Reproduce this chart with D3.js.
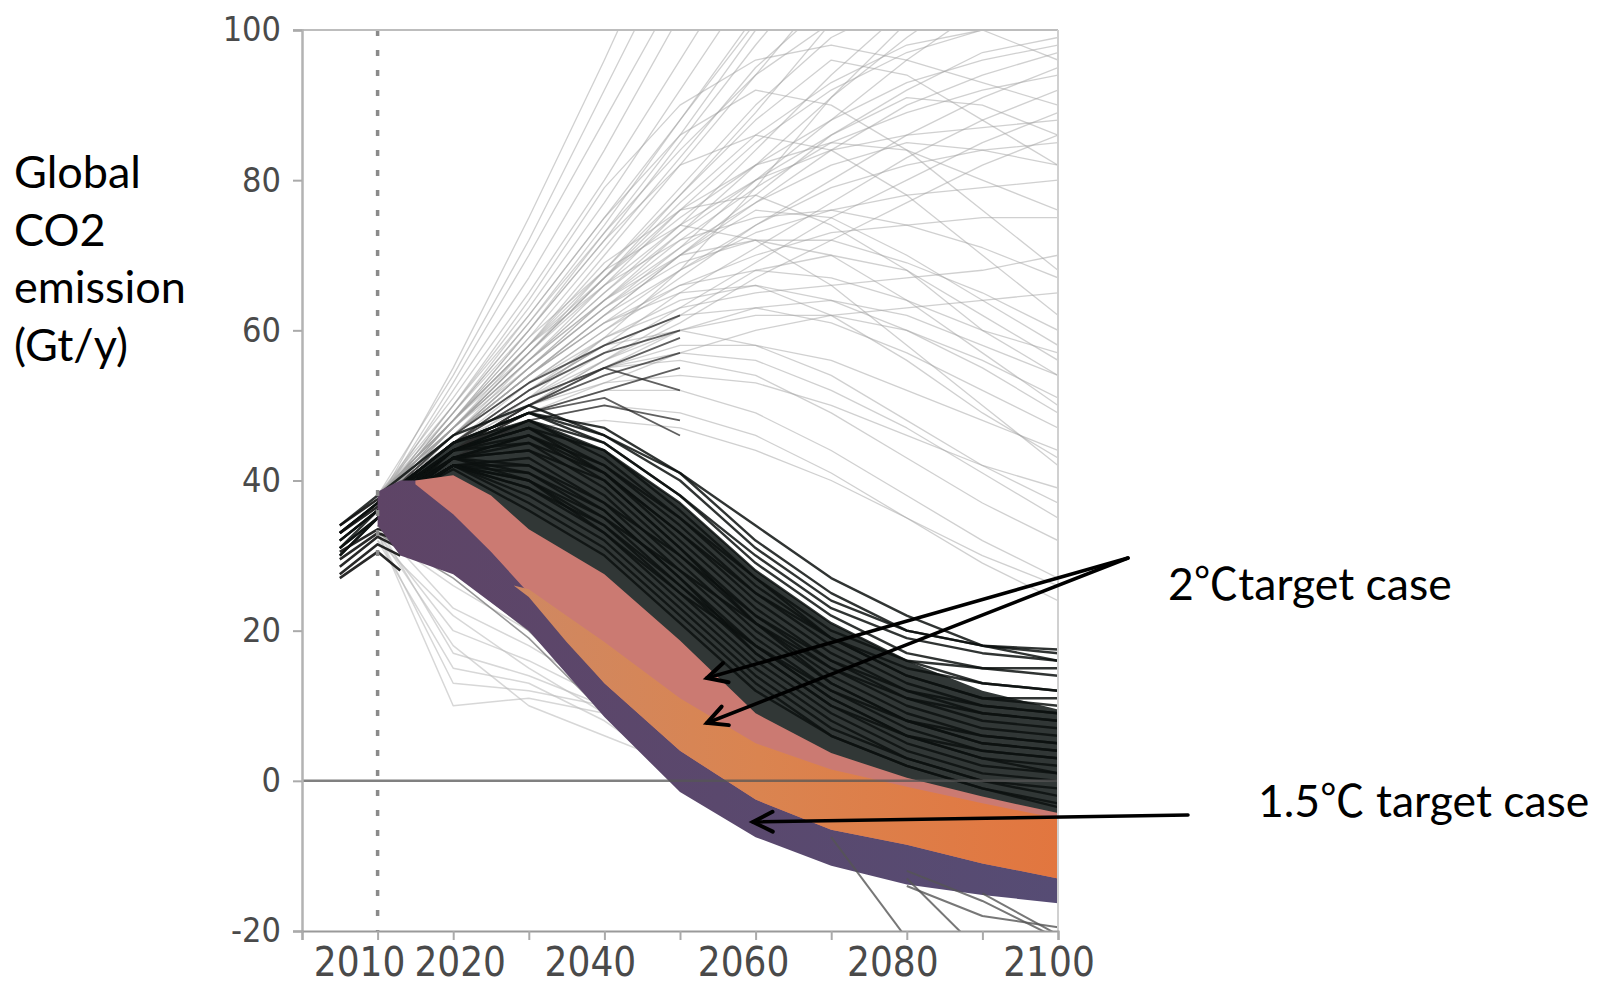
<!DOCTYPE html>
<html>
<head>
<meta charset="utf-8">
<script src="https://cdn.jsdelivr.net/npm/d3@7"></script>
<style>
  html, body { margin: 0; padding: 0; background: #fff; }
  svg { display: block; }
</style>
</head>
<body>
<svg id="chart" width="1608" height="985"></svg>
<script>
// ---- data (Gt CO2 / year) ----
const DECADES = [2010, 2020, 2030, 2040, 2050, 2060, 2070, 2080, 2090, 2100];
const BUNDLE_YEARS = [2005, 2010, 2020, 2030, 2040, 2050, 2060, 2070, 2080, 2090, 2100];
const HIST_YEARS = [2005, 2010, 2013];
const STEEP_YEARS = [2060, 2070, 2080, 2090, 2100];

const X_TICKS = [2000, 2010, 2020, 2030, 2040, 2050, 2060, 2070, 2080, 2090, 2100];
const X_LABELS = [2010, 2020, 2040, 2060, 2080, 2100];
const Y_TICKS = [-20, 0, 20, 40, 60, 80, 100];

// baseline scenarios (light grey fan), one value per decade from 2010
const fanLines = [
  [37, 55, 75, 96, 118],
  [38, 54, 72, 92, 112],
  [37, 53, 70, 88, 106],
  [37, 52, 67, 84, 102],
  [38, 51, 65, 80, 96, 112],
  [37, 50, 63, 77, 92, 107],
  [38, 50, 62, 75, 88, 101],
  [37, 49, 60, 72, 85, 98, 110],
  [38, 48, 58, 70, 82, 94, 106],
  [37, 48, 57, 67, 78, 89, 101],
  [38, 47, 56, 65, 74, 84, 94, 103],
  [37, 47, 55, 63, 71, 80, 88, 96, 103],
  [38, 46, 54, 62, 70, 77, 84, 90, 94, 97],
  [37, 46, 53, 60, 67, 74, 80, 86, 91, 95],
  [38, 45, 52, 58, 65, 71, 77, 83, 88, 92],
  [37, 45, 51, 57, 63, 69, 75, 80, 85, 89],
  [38, 44, 50, 56, 61, 67, 72, 77, 82, 86],
  [37, 48, 60, 72, 82, 86, 84, 78, 70, 62],
  [38, 47, 58, 69, 76, 78, 74, 68, 60, 54],
  [37, 49, 62, 75, 86, 92, 90, 84, 76, 68],
  [38, 46, 55, 64, 70, 72, 70, 64, 57, 50],
  [37, 46, 54, 62, 68, 73, 76, 78, 79, 80],
  [37, 47, 57, 66, 74, 80, 84, 86, 87, 88],
  [38, 48, 59, 68, 74, 72, 66, 58, 50, 42],
  [37, 45, 52, 59, 64, 66, 64, 60, 55, 49],
  [38, 47, 56, 64, 71, 77, 82, 85, 84, 82],
  [37, 50, 64, 79, 90, 96, 98, 96, 93, 90],
  [38, 44, 49, 53, 57, 60, 62, 63, 64, 65],
  [37, 45, 52, 58, 60, 58, 54, 48, 42, 37],
  [37, 44, 50, 55, 58, 58, 56, 52, 48, 44],
  [38, 45, 51, 55, 56, 54, 49, 43, 37, 32],
  [37, 44, 49, 52, 52, 49, 44, 38, 32, 27],
  [37, 44, 48, 50, 49, 46, 41, 35, 29, 24],
  [37, 43, 47, 48, 47, 44, 40, 35, 30, 26],
  [38, 46, 55, 63, 70, 76, 75, 70, 64, 58],
  [37, 48, 58, 68, 78, 88, 96, 94, 88, 82],
  [38, 47, 57, 67, 77, 86, 93, 98, 100, 96],
  [37, 46, 54, 62, 70, 78, 86, 92, 97, 99],
  [37, 45, 53, 60, 66, 70, 73, 74, 75, 75],
  [38, 46, 53, 59, 63, 65, 66, 67, 68, 70],
  [37, 44, 50, 55, 60, 63, 64, 62, 58, 54],
  [37, 45, 50, 53, 54, 53, 50, 46, 42, 39],
  [37, 44, 50, 56, 62, 68, 70, 68, 62, 56],
  [38, 48, 60, 73, 86, 100],
  [37, 46, 55, 64, 73, 82, 91, 99, 106],
  [37, 44, 51, 59, 68, 79, 91, 101],
  [38, 46, 54, 61, 65, 66, 62, 56, 49, 43],
  [38, 49, 61, 74, 88, 102],
  [37, 48, 59, 71, 83, 95, 104],
  [38, 47, 57, 68, 79, 90, 99, 104],
  [37, 46, 56, 66, 76, 85, 92, 97, 100],
  [38, 48, 58, 67, 75, 82, 88, 93, 96, 98],
  [37, 47, 56, 64, 72, 79, 85, 89, 92, 94],
  [38, 46, 54, 61, 68, 74, 79, 82, 84, 85],
  [37, 47, 57, 67, 76, 82, 85, 84, 80, 76],
  [38, 48, 58, 66, 72, 75, 76, 74, 71, 67],
  [37, 46, 55, 63, 69, 72, 72, 69, 65, 60],
  [38, 45, 52, 58, 62, 63, 61, 57, 52, 47],
  [37, 46, 54, 61, 66, 68, 67, 64, 60, 57],
  [38, 47, 56, 65, 73, 80, 86, 91, 90, 86],
  [37, 49, 61, 73, 84, 94, 101],
  [38, 45, 51, 56, 60, 62, 62, 60, 56, 51],
  [37, 45, 51, 55, 57, 56, 52, 47, 41, 35]
];

// scenarios that stop in 2050 (dark, upper side of the bundle)
const shortLines = [
  [37, 45, 52, 57, 60],
  [37, 44, 50, 54, 57],
  [36, 44, 49, 52, 55],
  [37, 45, 51, 55, 52],
  [36, 43, 48, 50, 48],
  [37, 46, 53, 58, 62],
  [37, 44, 49, 51, 46],
  [36, 44, 50, 55, 59]
];

// dense black bundle of mitigation scenarios (2005, 2010, then decades)
const bundleLines = [
  [34, 38, 46, 50, 46, 40, 31, 24, 20, 18, 17.5],
  [33, 37, 45, 49, 47, 41, 32, 25, 20, 18, 17],
  [33, 37, 45, 49, 45, 38, 29, 22, 17, 15, 14],
  [32, 36, 44, 48, 44, 37, 28, 21, 16, 13, 12],
  [32, 36, 44, 48, 43, 35, 26, 19, 14, 11, 10],
  [31, 35, 44, 47, 42, 34, 25, 18, 13, 10, 9],
  [33, 37, 44, 47, 41, 33, 24, 17, 12, 9, 8],
  [32, 36, 43, 46, 41, 32, 23, 16, 11, 8, 7],
  [31, 35, 43, 46, 40, 31, 22, 15, 10, 7, 6],
  [30, 35, 43, 45, 39, 30, 21, 14, 9, 6, 5],
  [31, 36, 43, 44, 38, 29, 20, 13, 8, 5, 4],
  [30, 35, 42, 43, 37, 28, 19, 12, 7, 4, 3],
  [null, 36, 42, 42, 36, 27, 18, 11, 6, 3, 2],
  [null, 36, 42, 41, 35, 26, 17, 10, 5, 2, 1],
  [null, 36, 42, 40, 34, 25, 16, 9, 4, 1, 0],
  [null, 36, 42, 39, 33, 24, 15, 8, 3, 0, -1],
  [null, 36, 42, 38, 32, 23, 14, 7, 3, 0, -2],
  [null, 36, 42, 37, 31, 22, 13, 6, 2, -1, -3],
  [null, 36, 41.5, 36, 30, 21, 12, 6, 2, -1, -3.5],
  [null, 37, 43, 40, 35, 28, 21, 15, 11, 9, 8],
  [null, 37, 44, 45, 41, 33, 25, 19, 15, 13, 12],
  [null, 37, 44, 47, 44, 36, 27, 19, 14, 11, 11],
  [null, 37, 45, 49, 46, 41, 34, 27, 22, 18, 16],
  [null, 36, 43, 44, 40, 31, 21, 13, 8, 6, 5],
  [null, 36, 43, 42, 37, 30, 22, 16, 12, 10, 9],
  [null, 36, 43, 41, 36, 27, 17, 10, 6, 4, 3],
  [null, 37, 44, 46, 42, 35, 27, 20, 16, 15, 15],
  [null, 36, 42, 40, 33, 25, 18, 12, 8, 5, 4],
  [null, 37, 45, 48, 45, 38, 30, 23, 19, 17, 16],
  [null, 36, 42, 39, 34, 26, 18, 11, 6, 3, 1]
];

// dense core of that bundle
const coreYears = [2010, 2020, 2030, 2040, 2050, 2060, 2070, 2080, 2090, 2100];
const coreUpper = [37.5, 45, 48, 44, 37, 28, 21, 16, 12, 9.5];
const coreLower = [36, 40, 32.5, 26.5, 17.7, 8, 2.7, -0.6, -3, -5];

// short historical strands at the start
const histLines = [
  [27.5, 31.5, 30],
  [28.5, 32.5, 31],
  [29.5, 33, 32],
  [30.5, 33.5, 33],
  [27, 30.5, 28],
  [33, 36.5, 38],
  [34, 37.5, 39]
];

// low, light grey scenarios under the 1.5C band
const lowLines = [
  [33, 10, 11, 9, 3],
  [33, 13, 12, 10, 4, -1],
  [34, 17, 14, 10, 5, 0, -4],
  [33, 20, 16, 11, 5, 0, -4, -7],
  [34, 23, 18, 12, 5, -1, -5, -8],
  [33, 26, 20, 13, 6, 0, -4, -7, -9],
  [32, 22, 15, 9, 2, -3, -7, -10, -12, -14],
  [33, 18, 10, 6, 2, -2, -5],
  [34, 28, 22, 15, 7, 1],
  [32, 15, 13, 8, 1]
];
const edgeLines = [
  [34, 28, 20, 10, 1, -5],
  [33, 27, 19, 9, 0]
];

// scenarios plunging below -20 late in the century
const steepLines = [
  [null, -7.5, -21],
  [null, null, -13, -23],
  [null, null, -12, -16, -21],
  [null, null, null, -15, -20.5],
  [null, null, -14, -18, -19.5]
];

// 1.5C band (purple)
const purpleYears = [2010, 2013, 2020, 2030, 2040, 2050, 2060, 2070, 2080, 2090, 2100];
const purpleUpper = [38.5, 40, 40, 31, 19, 9, 1, -4, -7.5, -10.5, -12.5];
const purpleLower = [34, 30, 27.5, 20, 8.5, -1.5, -7.5, -11.3, -13.8, -15.2, -16.3];

// 2C band (salmon)
const salmonYears = [2015, 2020, 2025, 2030, 2040, 2050, 2060, 2070, 2080, 2090, 2100];
const salmonUpper = [40, 40.7, 38, 33.5, 27.5, 18.7, 9, 3.7, 0.4, -2.1, -4.3];
const salmonLower = [39.5, 35.5, 30.5, 25, 13, 4, -2.5, -6.5, -8.5, -11, -13];

// 2C band, lower part (orange)
const orangeYears = [2028, 2030, 2035, 2040, 2050, 2060, 2070, 2080, 2090, 2100];
const orangeUpper = [26, 25.5, 22, 18.5, 11, 5, 1.5, -0.8, -3, -5];
const orangeLower = [26, 24.5, 18.5, 13, 4, -2.5, -6.5, -8.5, -11, -13];

const titleLines = ["Global", "CO2", "emission", "(Gt/y)"];

// ---- layout ----
const PLOT = { left: 302, right: 1058, top: 30, bottom: 931 };

const svg = d3.select("#chart");
const x = d3.scaleLinear().domain([2000, 2100]).range([PLOT.left, PLOT.right]);
const y = d3.scaleLinear().domain([-20, 100]).range([PLOT.bottom, PLOT.top]);

const defs = svg.append("defs");
defs.append("clipPath").attr("id", "plot-clip")
  .append("rect")
  .attr("x", PLOT.left).attr("y", PLOT.top)
  .attr("width", PLOT.right - PLOT.left).attr("height", PLOT.bottom - PLOT.top);

const purpleGrad = defs.append("linearGradient").attr("id", "purple-grad");
purpleGrad.append("stop").attr("offset", "0%").attr("stop-color", "#5e4466");
purpleGrad.append("stop").attr("offset", "100%").attr("stop-color", "#564c74");
const orangeGrad = defs.append("linearGradient").attr("id", "orange-grad");
orangeGrad.append("stop").attr("offset", "0%").attr("stop-color", "#cf8862");
orangeGrad.append("stop").attr("offset", "45%").attr("stop-color", "#da8450");
orangeGrad.append("stop").attr("offset", "100%").attr("stop-color", "#e2763f");

const plot = svg.append("g").attr("clip-path", "url(#plot-clip)");

function pts(years, vals) {
  return vals.map((v, i) => ({ year: years[i], v: v }));
}

const line = d3.line()
  .defined((d) => d.v !== null && d.v !== undefined)
  .x((d) => x(d.year))
  .y((d) => y(d.v));

function drawLines(sets, years, color, width, opacity) {
  plot.append("g")
    .selectAll("path")
    .data(sets)
    .enter()
    .append("path")
    .attr("d", (d) => line(pts(years, d)))
    .attr("fill", "none")
    .attr("stroke", color)
    .attr("stroke-width", width)
    .attr("stroke-opacity", opacity)
    .attr("stroke-linejoin", "round");
}

function drawBand(years, upper, lower, fill, opacity) {
  const data = years.map((yr, i) => ({ year: yr, hi: upper[i], lo: lower[i] }));
  const area = d3.area()
    .x((d) => x(d.year))
    .y0((d) => y(d.lo))
    .y1((d) => y(d.hi));
  plot.append("path")
    .datum(data)
    .attr("d", area)
    .attr("fill", fill)
    .attr("fill-opacity", opacity);
}

// grey fan and low scenarios
drawLines(fanLines, DECADES, "#a2a2a2", 1.3, 0.5);
drawLines(lowLines, DECADES, "#bdbdbd", 1.5, 0.6);
drawLines(edgeLines, DECADES, "#6e6e6e", 1.6, 0.7);

// black bundle
drawBand(coreYears, coreUpper, coreLower, "#1b2120", 0.9);
drawLines(shortLines, DECADES, "#2b2b2b", 1.8, 0.75);
drawLines(bundleLines, BUNDLE_YEARS, "#0c100f", 2.4, 0.85);
drawLines(histLines, HIST_YEARS, "#111", 2.6, 0.9);

// target bands
drawBand(purpleYears, purpleUpper, purpleLower, "url(#purple-grad)", 1);
drawBand(salmonYears, salmonUpper, salmonLower, "#cb7a72", 1);
drawBand(orangeYears, orangeUpper, orangeLower, "url(#orange-grad)", 1);

drawLines(steepLines, STEEP_YEARS, "#555", 2, 0.8);

// zero line
plot.append("line")
  .attr("x1", PLOT.left).attr("x2", PLOT.right)
  .attr("y1", y(0)).attr("y2", y(0))
  .attr("stroke", "#555").attr("stroke-width", 2.5).attr("stroke-opacity", 0.75);

// 2010 dotted marker
svg.append("line")
  .attr("x1", x(2010)).attr("x2", x(2010))
  .attr("y1", PLOT.top).attr("y2", PLOT.bottom)
  .attr("stroke", "#8a8a8a").attr("stroke-width", 3.5)
  .attr("stroke-dasharray", "6,14");

// frame
svg.append("line")
  .attr("x1", PLOT.left - 9).attr("x2", PLOT.right)
  .attr("y1", PLOT.top).attr("y2", PLOT.top)
  .attr("stroke", "#bdbdbd").attr("stroke-width", 2);
svg.append("line")
  .attr("x1", PLOT.right).attr("x2", PLOT.right)
  .attr("y1", PLOT.top).attr("y2", PLOT.bottom)
  .attr("stroke", "#d0d0d0").attr("stroke-width", 2);

// axes
const yAxis = svg.append("g")
  .attr("transform", `translate(${PLOT.left}, 0)`)
  .call(d3.axisLeft(y).tickValues(Y_TICKS).tickSize(9).tickPadding(12)
    .tickFormat((d) => (d < 0 ? "-" + Math.abs(d) : d)));
yAxis.select(".domain").attr("stroke", "#b3b3b3").attr("stroke-width", 2.5);
yAxis.selectAll(".tick line").attr("stroke", "#aaa").attr("stroke-width", 2);
yAxis.selectAll(".tick text")
  .attr("fill", "#4a4a4a")
  .style("font-family", "'DejaVu Sans Condensed', 'DejaVu Sans', sans-serif")
  .style("font-size", "34px");

const xAxis = svg.append("g")
  .attr("transform", `translate(0, ${PLOT.bottom})`)
  .call(d3.axisBottom(x).tickValues(X_TICKS).tickSize(9).tickFormat(""));
xAxis.select(".domain").attr("stroke", "#9a9a9a").attr("stroke-width", 2);
xAxis.selectAll(".tick line").attr("stroke", "#aaa").attr("stroke-width", 2);

// x labels are shifted a little off their ticks in the original
const labelNudge = { 2010: -18, 2020: 7, 2040: -14, 2060: -12, 2080: -14, 2100: -9 };
svg.append("g")
  .selectAll("text")
  .data(X_LABELS)
  .enter()
  .append("text")
  .attr("x", (d) => x(d) + labelNudge[d])
  .attr("y", 976)
  .attr("text-anchor", "middle")
  .attr("fill", "#4a4a4a")
  .style("font-family", "'DejaVu Sans Condensed', 'DejaVu Sans', sans-serif")
  .style("font-size", "40px")
  .text((d) => d);

// y title
svg.append("g")
  .selectAll("text")
  .data(titleLines)
  .enter()
  .append("text")
  .attr("x", 14)
  .attr("y", (d, i) => 188 + i * 57.5)
  .attr("fill", "#000")
  .style("font-family", "Lato, 'Open Sans', sans-serif")
  .style("font-size", "45px")
  .text((d) => d);

// annotations
const arrows = [
  { from: [1128, 558], to: [707, 678] },
  { from: [1128, 558], to: [707, 723] },
  { from: [1188, 815], to: [753, 822] }
];
const ann = svg.append("g").attr("stroke", "#000").attr("fill", "none")
  .attr("stroke-linecap", "round");
arrows.forEach((a) => {
  const ang = Math.atan2(a.from[1] - a.to[1], a.from[0] - a.to[0]);
  const len = 22, spread = 0.47;
  const b1 = [a.to[0] + len * Math.cos(ang + spread), a.to[1] + len * Math.sin(ang + spread)];
  const b2 = [a.to[0] + len * Math.cos(ang - spread), a.to[1] + len * Math.sin(ang - spread)];
  ann.append("path")
    .attr("d", `M${a.from[0]},${a.from[1]}L${a.to[0]},${a.to[1]}`)
    .attr("stroke-width", 3.5);
  ann.append("path")
    .attr("d", `M${b1[0]},${b1[1]}L${a.to[0]},${a.to[1]}L${b2[0]},${b2[1]}`)
    .attr("stroke-width", 4)
    .attr("stroke-linejoin", "miter");
});

svg.append("text")
  .attr("x", 1168).attr("y", 600)
  .style("font-family", "Lato, 'Noto Sans CJK JP', sans-serif")
  .style("font-size", "44.5px")
  .text("2℃target case");
svg.append("text")
  .attr("x", 1258).attr("y", 817)
  .style("font-family", "Lato, 'Noto Sans CJK JP', sans-serif")
  .style("font-size", "44.5px")
  .text("1.5℃ target case");
</script>
</body>
</html>
